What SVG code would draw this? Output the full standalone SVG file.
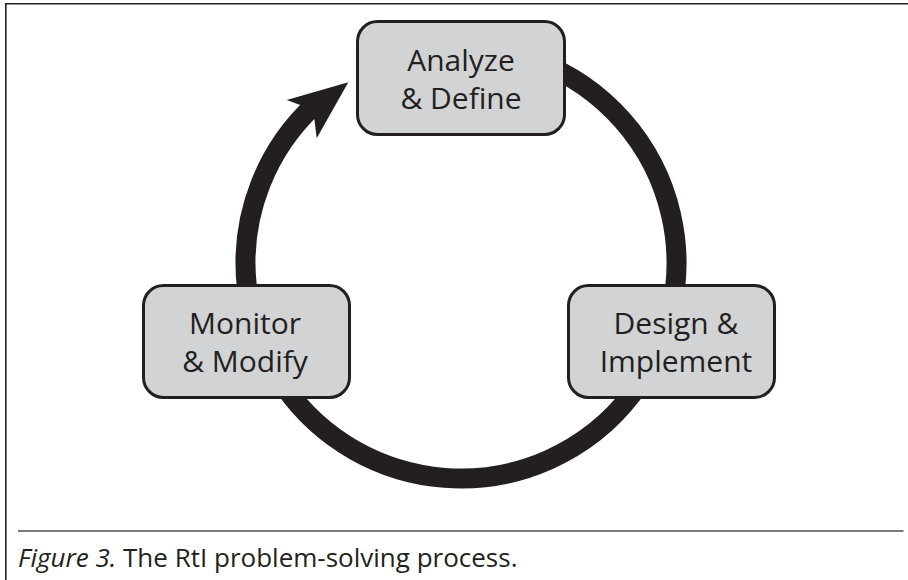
<svg xmlns="http://www.w3.org/2000/svg" width="908" height="580" viewBox="0 0 908 580">
  <style>
    .frame { stroke: #231f20; stroke-width: 1.6; fill: none; }
    .rule { stroke: #4d4d4f; stroke-width: 1.5; fill: none; }
    .ring { stroke: #231f20; stroke-width: 20; fill: none; stroke-linecap: butt; }
    .head { fill: #231f20; stroke: none; }
    .box { fill: #d1d3d4; stroke: #231f20; stroke-width: 3; }
    .label { font-family: "Open Sans", "Noto Sans", "Liberation Sans", sans-serif; font-size: 30px; fill: #231f20; text-anchor: middle; }
    .caption { font-family: "Open Sans", "Noto Sans", "Liberation Sans", sans-serif; font-size: 26px; fill: #231f20; }
  </style>
  <rect width="908" height="580" fill="#ffffff"/>

  <!-- outer frame: top and left edges -->
  <path class="frame" d="M5.8 580 V3.8 H908"/>

  <!-- cycle ring with arrowhead -->
  <g id="connectors">
    <path class="ring" d="M442.2 48.3 A215.5 215.5 0 1 1 314.0 105.4"/>
    <polygon class="head" points="348.3,82.3 286.7,100 300.2,105 314.4,119 316.7,138.3"/>
  </g>

  <g id="analyze">
    <rect class="box" x="357.5" y="21.5" width="207" height="113" rx="20"/>
    <text class="label" x="461" y="71">Analyze</text>
    <text class="label" x="461" y="109">&amp; Define</text>
  </g>

  <g id="design">
    <rect class="box" x="568.5" y="285.5" width="206" height="112" rx="20"/>
    <text class="label" x="676" y="334">Design &amp;</text>
    <text class="label" x="676" y="372">Implement</text>
  </g>

  <g id="monitor">
    <rect class="box" x="143.5" y="285.5" width="206" height="112" rx="20"/>
    <text class="label" x="245" y="334">Monitor</text>
    <text class="label" x="245" y="372">&amp; Modify</text>
  </g>

  <!-- caption -->
  <line class="rule" x1="18" y1="531" x2="903.5" y2="531"/>
  <text class="caption" x="18" y="567"><tspan font-style="italic">Figure 3.</tspan> The RtI problem-solving process.</text>
</svg>
